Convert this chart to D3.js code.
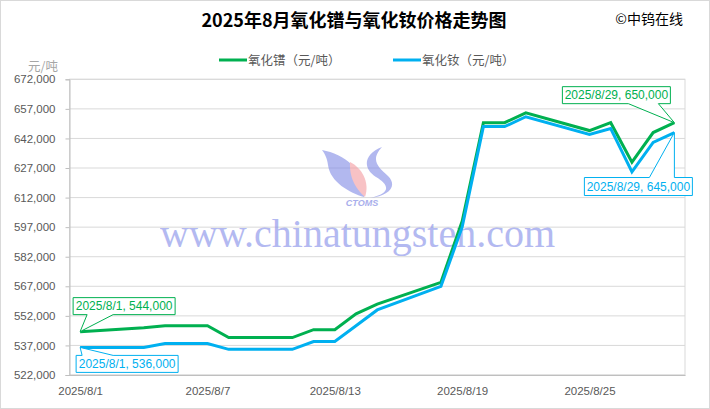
<!DOCTYPE html>
<html><head><meta charset="utf-8">
<script src="https://cdn.jsdelivr.net/npm/d3@7"></script>
<style>body{margin:0;background:#fff}svg{display:block}</style>
</head><body><svg id="c" width="710" height="409"></svg>
<script>
// ---- data ----
const dates = ["2025-08-01","2025-08-04","2025-08-05","2025-08-06","2025-08-07","2025-08-08",
  "2025-08-11","2025-08-12","2025-08-13","2025-08-14","2025-08-15",
  "2025-08-18","2025-08-19","2025-08-20","2025-08-21","2025-08-22",
  "2025-08-25","2025-08-26","2025-08-27","2025-08-28","2025-08-29"];
const praseodymiumOxide = [544000,546000,547000,547000,547000,541000,
  541000,545000,545000,553000,558000,
  569000,600000,650000,650000,655000,
  646000,650000,630000,645000,650000];
const neodymiumOxide = [536000,536000,538000,538000,538000,535000,
  535000,539000,539000,547000,555000,
  567000,597000,648000,648000,653000,
  644000,647000,625000,640000,645000];
const seriesNames = ["氧化镨（元/吨）","氧化钕（元/吨）"];
const yTicks = [522000,537000,552000,567000,582000,597000,612000,627000,642000,657000,672000];
const xTickDates = ["2025-08-01","2025-08-07","2025-08-13","2025-08-19","2025-08-25"];
const titleText = "2025年8月氧化镨与氧化钕价格走势图";
const sourceText = "©中钨在线";
const unitText = "元/吨";

// ---- layout ----
const svg = d3.select("#c");
const W = 710, H = 409;
const L = 69.5, R = 685, T = 79.3, B = 375;
const colors = ["#00B050", "#00B0F0"];
const numFont = "'Liberation Sans', Arial, sans-serif";
const cjkFont = "'Noto Sans CJK SC', 'Noto Sans', sans-serif";

const parse = d3.utcParse("%Y-%m-%d");
const dts = dates.map(parse);
const x = d3.scaleUtc()
  .domain([d3.utcHour.offset(parse("2025-08-01"), -12), d3.utcHour.offset(parse("2025-08-29"), 12)])
  .range([L, R]);
const y = d3.scaleLinear().domain([yTicks[0], yTicks[yTicks.length-1]]).range([B, T]);

svg.append("rect").attr("x",0.5).attr("y",0.5).attr("width",W-1).attr("height",H-1)
  .attr("fill","#fff").attr("stroke","#d9d9d9");

// gridlines
svg.append("g").selectAll("line").data(yTicks).join("line")
  .attr("x1", L).attr("x2", R).attr("y1", d=>y(d)).attr("y2", d=>y(d))
  .attr("stroke", "#d9d9d9").attr("stroke-width", 1);

// plot border
svg.append("rect").attr("x",L).attr("y",T).attr("width",R-L).attr("height",B-T)
  .attr("fill","none").attr("stroke","#d9d9d9");

// y axis
const yAxis = d3.axisLeft(y).tickValues(yTicks).tickFormat(d3.format(",")).tickSize(4).tickPadding(10);
const gy = svg.append("g").attr("transform",`translate(${L},0)`).call(yAxis);
gy.select(".domain").attr("stroke","#bfbfbf");
gy.selectAll(".tick line").attr("stroke","#bfbfbf");
gy.selectAll("text").attr("fill","#595959").style("font-family",numFont).style("font-size","11.5px");

// x axis
const fmtDate = d => `${d.getUTCFullYear()}/${d.getUTCMonth()+1}/${d.getUTCDate()}`;
const xAxis = d3.axisBottom(x).tickValues(xTickDates.map(parse)).tickFormat(fmtDate).tickSize(0).tickPadding(12);
const gx = svg.append("g").attr("transform",`translate(0,${B})`).call(xAxis);
gx.select(".domain").attr("stroke","#bfbfbf");
gx.selectAll("text").attr("fill","#595959").style("font-family",numFont).style("font-size","11.5px");

// watermark
const wm = svg.append("g").attr("opacity",0.6);
wm.append("path").attr("fill","#7f89e6")
  .attr("d","M322,150 C344,154 366,170 364,197 C350,193 330,182 328,165 C327,158 325,154 322,150 Z");
wm.append("path").attr("fill","#f49aa0")
  .attr("d","M350,162 C362,168 370,182 365,197 C358,191 349,180 350,162 Z");
wm.append("path").attr("fill","#7f89e6")
  .attr("d","M382,147 C364,154 362,168 376,177 C388,184 393,193 370,198 C389,196 398,186 388,176 C378,167 370,160 382,147 Z");
wm.append("text").attr("x",362).attr("y",206).attr("text-anchor","middle")
  .style("font-family",numFont).style("font-size","9px").style("font-weight","bold").style("font-style","italic")
  .attr("fill","#6f79e0").text("CTOMS");
svg.append("text").attr("x",160).attr("y",247)
  .style("font-family","'Liberation Serif','Times New Roman',serif").style("font-size","40px")
  .attr("fill","#8c95ea").attr("opacity",0.65).text("www.chinatungsten.com");

// lines
const series = [praseodymiumOxide, neodymiumOxide];
const line = d3.line().x((d,i)=>x(dts[i])).y(d=>y(d));
series.forEach((s,k)=>{
  svg.append("path").datum(s).attr("d", line).attr("fill","none")
    .attr("stroke", colors[k]).attr("stroke-width", 3).attr("stroke-linejoin","miter");
});

// callouts
const fmtNum = d3.format(",");
function callout(px, py, bx, by, bw, bh, wedgeL, wedgeR, side, color, text){
  const l=bx, r=bx+bw, t=by, b=by+bh;
  let p;
  if (side === "bottom") {
    p = `M${l},${t}L${r},${t}L${r},${b}L${wedgeR},${b}L${px},${py}L${wedgeL},${b}L${l},${b}Z`;
  } else {
    p = `M${l},${t}L${wedgeL},${t}L${px},${py}L${wedgeR},${t}L${r},${t}L${r},${b}L${l},${b}Z`;
  }
  svg.append("path").attr("d",p).attr("fill","#fff").attr("stroke",color).attr("stroke-width",1);
  svg.append("text").attr("x",(l+r)/2).attr("y",(t+b)/2+4.2).attr("text-anchor","middle")
    .style("font-family",numFont).style("font-size","12px").attr("fill",color).text(text);
}
const n = dts.length-1;
{
  const px = x(dts[0]), py = y(praseodymiumOxide[0]);
  callout(px, py, px-7, py-34, 102, 17, px+7, px+33, "bottom", colors[0], `${fmtDate(dts[0])}, ${fmtNum(praseodymiumOxide[0])}`);
  const qy = y(neodymiumOxide[0]);
  callout(px, qy, px-4, qy+8, 102, 17, px+2, px+33, "top", colors[1], `${fmtDate(dts[0])}, ${fmtNum(neodymiumOxide[0])}`);
}
{
  const px = x(dts[n]), py = y(praseodymiumOxide[n]);
  callout(px, py, px-112, py-36, 108, 17, px-46, px-16, "bottom", colors[0], `${fmtDate(dts[n])}, ${fmtNum(praseodymiumOxide[n])}`);
  const qy = y(neodymiumOxide[n]);
  callout(px, qy, px-90, qy+45, 108, 18, px-25, px, "top", colors[1], `${fmtDate(dts[n])}, ${fmtNum(neodymiumOxide[n])}`);
}

// title & source
svg.append("text").attr("x",354).attr("y",27).attr("text-anchor","middle")
  .style("font-family",cjkFont).style("font-size","18px").style("font-weight","bold").attr("fill","#000").text(titleText);
svg.append("text").attr("x",683).attr("y",24).attr("text-anchor","end")
  .style("font-family",cjkFont).style("font-size","14px").attr("fill","#000").text(sourceText);
svg.append("text").attr("x",58).attr("y",71).attr("text-anchor","end")
  .style("font-family",cjkFont).style("font-size","12.5px").attr("fill","#a6a6a6").text(unitText);

// legend
const legX = [219, 393];
seriesNames.forEach((name,k)=>{
  svg.append("line").attr("x1",legX[k]).attr("x2",legX[k]+28).attr("y1",60).attr("y2",60)
    .attr("stroke",colors[k]).attr("stroke-width",3);
  svg.append("text").attr("x",legX[k]+29).attr("y",64.5)
    .style("font-family",cjkFont).style("font-size","12.5px").attr("fill","#595959").text(name);
});
</script></body></html>
